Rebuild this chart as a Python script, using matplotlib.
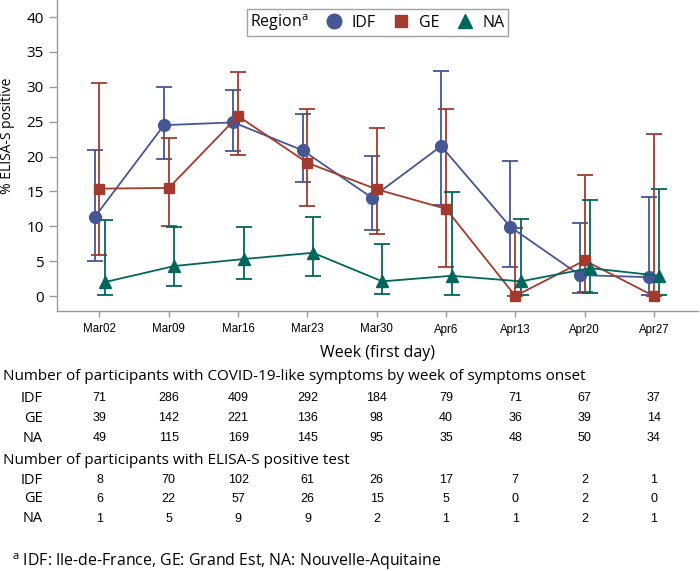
import matplotlib
matplotlib.use("Agg")
import matplotlib.pyplot as plt
from matplotlib.lines import Line2D
import numpy as np

# ---------------- data ----------------
weeks = ["Mar02", "Mar09", "Mar16", "Mar23", "Mar30", "Apr6", "Apr13", "Apr20", "Apr27"]
regions = ["IDF", "GE", "NA"]

idf_pct = [11.3, 24.5, 24.9, 20.9, 14.1, 21.5, 9.9, 3.0, 2.7]
idf_lo = [5.0, 19.7, 20.8, 16.4, 9.5, 13.1, 4.1, 0.4, 0.1]
idf_hi = [21.0, 30.0, 29.5, 26.1, 20.1, 32.3, 19.3, 10.4, 14.2]

ge_pct = [15.4, 15.5, 25.8, 19.1, 15.3, 12.5, 0.0, 5.1, 0.0]
ge_lo = [5.9, 10.0, 20.2, 12.9, 8.9, 4.2, 0.0, 0.6, 0.0]
ge_hi = [30.5, 22.6, 32.1, 26.8, 24.1, 26.8, 9.7, 17.3, 23.2]

na_pct = [2.0, 4.3, 5.3, 6.2, 2.1, 2.9, 2.1, 4.0, 2.9]
na_lo = [0.1, 1.4, 2.5, 2.9, 0.3, 0.1, 0.1, 0.5, 0.1]
na_hi = [10.9, 9.9, 9.9, 11.4, 7.4, 14.9, 11.1, 13.7, 15.3]

symp_idf = [71, 286, 409, 292, 184, 79, 71, 67, 37]
symp_ge = [39, 142, 221, 136, 98, 40, 36, 39, 14]
symp_na = [49, 115, 169, 145, 95, 35, 48, 50, 34]

pos_idf = [8, 70, 102, 61, 26, 17, 7, 2, 1]
pos_ge = [6, 22, 57, 26, 15, 5, 0, 2, 0]
pos_na = [1, 5, 9, 9, 2, 1, 1, 2, 1]

# ---------------- style ----------------
plt.rcParams["font.family"] = ["Open Sans", "DejaVu Sans"]
plt.rcParams["mathtext.fontset"] = "custom"
plt.rcParams["mathtext.rm"] = "Open Sans"

C_IDF = "#445694"
C_GE = "#A23A2E"
C_NA = "#01665E"
GRAY = "#9a9a9a"

W, H = 700, 571
fig = plt.figure(figsize=(W / 100, H / 100), dpi=100)


def fx(px):
    return px / W


def fy(py):
    return 1 - py / H


ax = fig.add_axes([fx(57), fy(311), fx(698) - fx(57), fy(0) - fy(311)])

x = np.arange(len(weeks))
series = [
    (idf_pct, idf_lo, idf_hi, C_IDF, "o", 8.5, -0.07),
    (ge_pct, ge_lo, ge_hi, C_GE, "s", 7.5, 0.0),
    (na_pct, na_lo, na_hi, C_NA, "^", 8.5, 0.08),
]
for pct, lo, hi, col, mk, ms, off in series:
    pct = np.array(pct)
    err = np.vstack([pct - np.array(lo), np.array(hi) - pct])
    ax.errorbar(x + off, pct, yerr=err, fmt="none", ecolor=col, elinewidth=1.3,
                capsize=6, capthick=1.3, zorder=2)
    ax.plot(x + off, pct, color=col, lw=1.3, marker=mk, ms=ms, mec=col, mfc=col, zorder=3)

ax.set_xlim(-0.613, 8.636)
ax.set_ylim(-2.15, 42.45)
ax.set_yticks(np.arange(0, 41, 5))
ax.set_xticks(x)
ax.set_xticklabels(weeks, fontfamily="Liberation Sans", fontsize=8.3)
for t in ax.get_yticklabels():
    t.set_fontsize(11)

for s in ["top", "right"]:
    ax.spines[s].set_visible(False)
for s in ["left", "bottom"]:
    ax.spines[s].set_color(GRAY)
    ax.spines[s].set_linewidth(1.0)
ax.tick_params(axis="y", direction="out", length=6, width=1, color=GRAY, pad=3.5)
ax.tick_params(axis="x", direction="out", length=4, width=1, color=GRAY, pad=5)

fig.text(fx(8), fy(136), "% ELISA-S positive", rotation=90, ha="center", va="center", fontsize=10)
fig.text(fx(377), fy(353), "Week (first day)", ha="center", va="center", fontsize=11.5)

# legend with inline title
handles = [
    Line2D([], [], ls="none", marker="o", ms=10.5, color=C_IDF),
    Line2D([], [], ls="none", marker="s", ms=9, color=C_GE),
    Line2D([], [], ls="none", marker="^", ms=10.5, color=C_NA),
]
leg = fig.legend(handles, regions, title="Region$^{\\mathrm{a}}$", ncol=3, loc="upper left",
                 bbox_to_anchor=(fx(247), fy(9)), frameon=True, fancybox=False,
                 edgecolor="#8a8a8a", fontsize=11.5, title_fontsize=11.5, handlelength=1.0,
                 handletextpad=0.6, columnspacing=1.1, borderpad=0.2, borderaxespad=0)
leg.get_frame().set_linewidth(1.0)
box = leg.get_children()[0]
title_box = box.get_children()[0]
hpack = box.get_children()[1]
box._children = [hpack]
hpack._children = [title_box] + hpack.get_children()

# tables
tick_px = [99.5 + 69.3 * i for i in range(len(weeks))]
fig.text(fx(3), fy(377), "Number of participants with COVID-19-like symptoms by week of symptoms onset",
         ha="left", va="center", fontsize=11)
fig.text(fx(3), fy(461), "Number of participants with ELISA-S positive test",
         ha="left", va="center", fontsize=11)

rows = [
    (398, "IDF", symp_idf), (418, "GE", symp_ge), (438, "NA", symp_na),
    (480, "IDF", pos_idf), (499, "GE", pos_ge), (519, "NA", pos_na),
]
for py, lab, vals in rows:
    fig.text(fx(43), fy(py), lab, ha="right", va="center", fontsize=10.5)
    for px, v in zip(tick_px, vals):
        fig.text(fx(px), fy(py), str(v), ha="center", va="center", fontsize=9,
                 fontfamily="Liberation Sans")

fig.text(fx(12), fy(562), "$^{\\mathrm{a}}$ IDF: Ile-de-France, GE: Grand Est, NA: Nouvelle-Aquitaine",
         ha="left", va="center", fontsize=11.4)

fig.savefig("out.png", dpi=100)
